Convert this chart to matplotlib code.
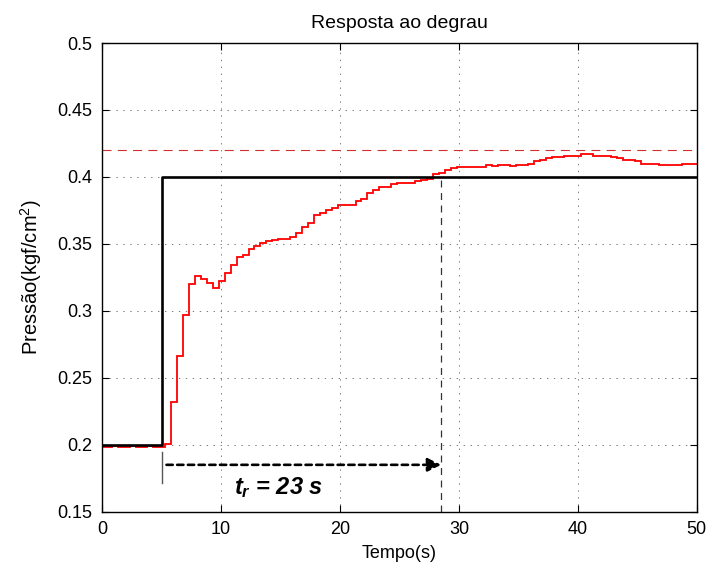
import numpy as np
import matplotlib
matplotlib.use("Agg")
import matplotlib.pyplot as plt

plt.rcParams['font.family'] = ['Liberation Sans', 'DejaVu Sans']
plt.rcParams['mathtext.fontset'] = 'custom'
plt.rcParams['mathtext.it'] = 'Liberation Sans:bold:italic'
plt.rcParams['mathtext.rm'] = 'Liberation Sans'
plt.rcParams['lines.scale_dashes'] = False

# reference step (setpoint)
ref_t = [0, 5, 50]
ref_p = [0.2, 0.4, 0.4]

# measured pressure, zero-order hold, sample edges (s)
meas_edges = np.concatenate(([0.0], np.arange(0.3, 50, 0.5), [50.0]))
meas_p = [
    0.198,
    0.198, 0.199, 0.198, 0.198, 0.199, 0.198, 0.198, 0.199, 0.198, 0.198,
    0.2005, 0.232, 0.266, 0.297, 0.320, 0.326, 0.3235, 0.321, 0.317, 0.322,
    0.3285, 0.334, 0.340, 0.342, 0.3464, 0.3486, 0.3506, 0.3518, 0.3531, 0.354,
    0.354, 0.355, 0.3583, 0.3625, 0.3658, 0.3712, 0.3733, 0.3755, 0.3767, 0.3787,
    0.3787, 0.3787, 0.382, 0.3832, 0.3882, 0.3904, 0.3924, 0.3924, 0.3944, 0.3957,
    0.3957, 0.3957, 0.3966, 0.3976, 0.3987, 0.4019, 0.4031, 0.4054, 0.4066, 0.4073,
    0.4073, 0.4073, 0.4075, 0.4073, 0.4086, 0.4078, 0.4088, 0.4088, 0.408, 0.4088,
    0.4088, 0.4098, 0.4118, 0.4128, 0.4138, 0.4151, 0.4151, 0.4155, 0.4158, 0.4158,
    0.4168, 0.4168, 0.416, 0.416, 0.4158, 0.4148, 0.4138, 0.4125, 0.4125, 0.4116,
    0.4093, 0.4093, 0.4093, 0.4086, 0.4086, 0.4086, 0.4086, 0.4093, 0.4093, 0.4093,
]

overshoot_level = 0.42
t_start = 5
t_rise_end = 28.5
rise_level = 0.40
arrow_y = 0.185
rise_label = r'$t_r$ = 23 s'

fig = plt.figure(figsize=(7.08, 5.69), dpi=100)
ax = fig.add_axes([0.1445, 0.1007, 0.8395, 0.8237])

ax.axhline(overshoot_level, color='#d03030', lw=0.8, dashes=(6.5, 4.5))
ax.plot(ref_t, ref_p, color='k', lw=1.9, drawstyle='steps-post')
ax.stairs(meas_p, meas_edges, color='r', lw=1.3, baseline=None)

# rise time markers
ax.plot([t_rise_end, t_rise_end], [0.15, rise_level], color='#333333', lw=0.9, dashes=(5, 4))
ax.plot([t_start, t_start], [0.1716, 0.1945], color='#555555', lw=1.0)
ax.annotate('', xy=(t_rise_end, arrow_y), xytext=(t_start + 0.4, arrow_y),
            arrowprops=dict(arrowstyle='-|>', color='k', lw=1.9, ls=(0, (4.5, 3.2)),
                            mutation_scale=20, shrinkA=0, shrinkB=0))
ax.text(11.1, 0.1629, rise_label, fontsize=17, fontweight='bold', fontstyle='italic',
        va='baseline', ha='left')

ax.set_xlim(0, 50)
ax.set_ylim(0.15, 0.5)
ax.set_xticks([0, 10, 20, 30, 40, 50])
ax.set_yticks([0.15, 0.2, 0.25, 0.3, 0.35, 0.4, 0.45, 0.5])
ax.set_yticklabels(['0.15', '0.2', '0.25', '0.3', '0.35', '0.4', '0.45', '0.5'])
ax.tick_params(direction='in', top=True, right=True, length=5, labelsize=13, width=0.8, pad=7)
ax.grid(True, color='#666666', lw=0.6, ls=(0, (1, 4)))
for s in ax.spines.values():
    s.set_linewidth(1.0)

ax.set_title('Resposta ao degrau', fontsize=14, pad=11)
ax.set_xlabel('Tempo(s)', fontsize=13, labelpad=5)
ax.set_ylabel('Pressão(kgf/cm$^2$)', fontsize=14.5, labelpad=10)

fig.savefig('out.png', dpi=100)
